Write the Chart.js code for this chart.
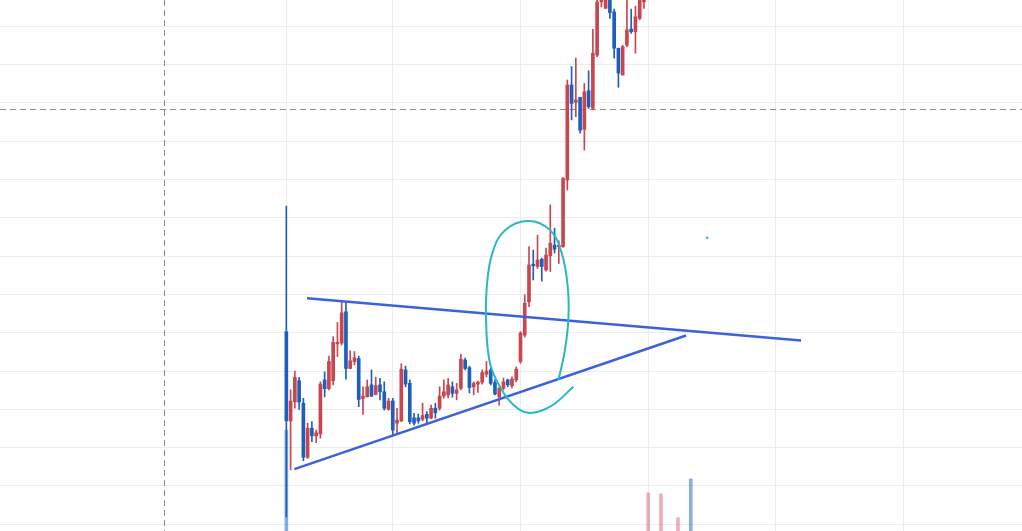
<!DOCTYPE html>
<html>
<head>
<meta charset="utf-8">
<script src="https://cdn.jsdelivr.net/npm/chart.js@4.4.1/dist/chart.umd.min.js"></script>
<style>
  html, body { margin: 0; padding: 0; background: #fff; }
  #wrap { width: 1022px; height: 531px; position: relative; }
</style>
</head>
<body>
<div id="wrap"><canvas id="ch1"></canvas></div>
<script>
'use strict';

// ---- candle data (daily bars, index 0 = first bar) ----
const openV  = [6.03,3.70,4.20,4.75,4.16,2.75,3.51,3.31,3.36,4.77, 4.54,4.75,5.71,5.73,6.55,5.07,5.25,5.33,4.28,4.33,
                4.64,4.39,4.64,4.46,4.00,4.22,3.64,3.70,5.03,4.68, 3.78,3.78,3.74,3.87,3.77,4.03,4.03,4.35,4.38,4.59,
                4.42,4.55,5.29,5.09,4.59,4.66,4.71,4.92,5.03,4.70, 4.33,4.55,4.77,4.61,4.77,5.25,5.94,6.81,7.79,7.73,
                7.92,7.64,8.01,8.29,8.25,8.25,9.99,12.47,12.02,12.15, 11.31,12.32,11.86,13.25,14.64,14.47,14.82,14.38,13.43,12.73,
                13.51,13.93,13.86,14.21,14.64];
const highV  = [9.31,4.51,5.00,4.84,4.29,3.64,3.68,3.46,4.72,4.98, 5.39,5.90,6.27,6.81,6.81,5.53,5.51,5.39,4.59,4.77,
                5.03,4.84,4.81,4.72,4.29,4.29,4.03,5.19,5.13,4.77, 3.90,3.88,4.16,3.94,4.11,4.16,4.59,4.77,4.81,4.72,
                4.68,5.44,5.34,5.13,4.72,4.74,5.03,5.25,5.08,4.77, 4.59,4.82,4.79,4.85,5.11,6.03,6.99,8.25,8.16,8.55,
                7.95,8.21,9.34,8.73,8.40,10.05,12.60,12.95,13.17,12.15, 12.51,12.84,13.92,14.75,14.85,14.90,14.90,14.45,13.43,13.51,
                14.77,14.45,14.53,14.90,15.00];
const lowV   = [1.19,2.42,4.03,4.00,2.66,2.72,3.16,3.13,3.25,4.33, 4.51,4.64,5.38,5.68,4.79,5.06,5.16,4.07,3.87,4.32,
                4.33,4.38,4.25,3.98,3.98,3.31,3.38,3.68,4.59,3.62, 3.59,3.64,3.70,3.65,3.75,3.77,3.98,4.29,4.30,4.32,
                4.25,4.51,5.03,4.43,4.38,4.44,4.66,4.85,4.64,4.38, 4.11,4.51,4.59,4.56,4.72,5.20,5.89,6.68,7.38,7.68,
                7.35,7.61,7.60,8.08,7.81,8.23,9.73,11.56,11.64,11.21, 10.77,11.86,11.82,13.21,14.51,14.47,14.21,13.17,12.41,12.73,
                13.47,13.82,13.30,14.17,14.47];
const closeV = [3.70,4.22,4.84,4.19,2.75,3.51,3.31,3.39,4.66,4.54, 5.25,5.75,5.75,6.52,5.07,5.27,5.35,4.26,4.35,4.59,
                4.35,4.62,4.46,4.03,4.22,3.46,3.72,5.05,4.66,3.68, 3.64,3.70,3.84,3.77,4.03,3.91,4.35,4.46,4.64,4.42,
                4.51,5.31,5.07,4.57,4.68,4.71,4.96,5.00,4.68,4.40, 4.55,4.72,4.64,4.79,5.05,5.99,6.77,7.77,7.75,7.90,
                7.73,8.03,8.34,8.18,8.29,10.03,12.47,11.99,12.08,11.29, 12.29,11.90,13.30,14.64,14.77,14.82,14.36,13.43,12.78,13.47,
                13.91,13.86,14.25,14.82,14.95];

// volume bars that reach into the view
const volIdx = [0, 85, 88, 92, 95];
const volVal = [19.0, 7.2, 7.0, 2.5, 9.8];
const volUp  = [false, true, true, true, false];

// drawn objects (bar index, price)
const upperLine = [[4.86, 6.90], [120.9, 5.80]];
const lowerLine = [[1.88, 2.44], [93.9, 5.93]];
const loopPts = [[63.9,4.77],[65.3,5.46],[66.24,6.33],[66.1,7.20],[64.69,8.08],[61.95,8.68],[56.85,8.92],
                 [51.37,8.68],[48.39,8.08],[47.08,7.20],[46.91,6.33],[47.85,5.20],[50.6,4.51],[53.32,4.12],
                 [56.85,3.91],[61.95,4.07],[67.42,4.59]];
const dotPt = [98.83, 8.48];
const crosshair = [-28.85, 11.84];

// axis view / grid
const xMin = -67.26, xMax = 172.8;
const yMin = 0.825, yMax = 14.689;
const xGrid = [0, 25, 55, 85, 115, 145];
const yGrid = [1,2,3,4,5,6,7,8,9,10,11,12,13,14];

const UP = '#c9464f', DOWN = '#1d5fbf';
const candleCol = openV.map((o, i) => closeV[i] >= o ? UP : DOWN);

const crossPlugin = {
  id: 'cross',
  beforeDatasetsDraw(chart) {
    const { ctx, chartArea: a, scales: { x, y } } = chart;
    const px = x.getPixelForValue(crosshair[0]);
    const py = y.getPixelForValue(crosshair[1]);
    ctx.save();
    ctx.strokeStyle = '#8a8a8a';
    ctx.lineWidth = 1;
    ctx.setLineDash([6, 4]);
    ctx.beginPath();
    ctx.moveTo(Math.round(px) + 0.5, a.top); ctx.lineTo(Math.round(px) + 0.5, a.bottom);
    ctx.moveTo(a.left, Math.round(py) + 0.5); ctx.lineTo(a.right, Math.round(py) + 0.5);
    ctx.stroke();
    ctx.restore();
  }
};

const pts = arr => arr.map(p => ({ x: p[0], y: p[1] }));

new Chart(document.getElementById('ch1').getContext('2d'), {
  type: 'bar',
  data: {
    datasets: [
      { type: 'scatter', data: pts([dotPt]), pointRadius: 1.3, backgroundColor: '#26b9c9', borderWidth: 0, order: 0 },
      { type: 'line', data: pts(loopPts), borderColor: '#27b8c8', borderWidth: 2, pointRadius: 0, tension: 0.4, fill: false, order: 1 },
      { type: 'line', data: pts(upperLine), borderColor: '#3b62dc', borderWidth: 2.5, pointRadius: 0, fill: false, order: 2 },
      { type: 'line', data: pts(lowerLine), borderColor: '#3b62dc', borderWidth: 2.5, pointRadius: 0, fill: false, order: 2 },
      { label: 'body', data: openV.map((o, i) => ({ x: i, y: [o, closeV[i]] })), backgroundColor: candleCol,
        barThickness: 3, grouped: false, minBarLength: 1, order: 3 },
      { label: 'wick', data: lowV.map((l, i) => ({ x: i, y: [l, highV[i]] })), backgroundColor: candleCol,
        barThickness: 1, grouped: false, order: 4 },
      { label: 'vol', yAxisID: 'yv', data: volIdx.map((v, i) => ({ x: v, y: volVal[i] })),
        backgroundColor: volUp.map(u => u ? 'rgba(220,110,125,0.55)' : 'rgba(40,110,215,0.55)'),
        barThickness: 3, grouped: false, order: 5 }
    ]
  },
  options: {
    responsive: true,
    maintainAspectRatio: false,
    animation: false,
    layout: { padding: 0, autoPadding: false },
    plugins: { legend: { display: false }, tooltip: { enabled: false } },
    scales: {
      x: {
        type: 'linear', min: xMin, max: xMax, offset: false,
        grid: { color: '#ececec', drawTicks: false, offset: false },
        border: { display: false },
        ticks: { display: false },
        afterBuildTicks: s => { s.ticks = xGrid.map(v => ({ value: v })); }
      },
      y: {
        type: 'linear', min: yMin, max: yMax, beginAtZero: false,
        grid: { color: '#ececec', drawTicks: false },
        border: { display: false },
        ticks: { display: false },
        afterBuildTicks: s => { s.ticks = yGrid.map(v => ({ value: v })); }
      },
      yv: { type: 'linear', display: false, min: 0, max: 100 }
    }
  },
  plugins: [crossPlugin]
});
</script>
</body>
</html>
